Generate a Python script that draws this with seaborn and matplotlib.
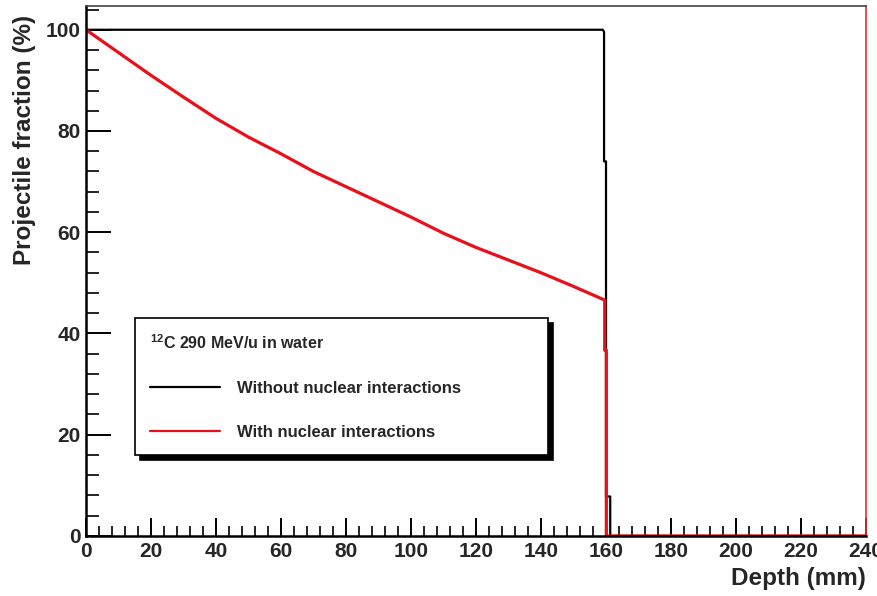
import matplotlib
matplotlib.use("Agg")
import matplotlib.pyplot as plt
import seaborn as sns
from matplotlib.ticker import MultipleLocator

# Depth (mm) and projectile fraction (%)
depth_with = [0, 10, 20, 30, 40, 50, 60, 70, 80, 90, 100, 110, 120, 130, 140, 150,
              159.6, 159.6, 160.1, 160.1, 240]
frac_with = [100, 95.5, 91, 86.7, 82.5, 78.8, 75.5, 72, 69, 66, 63, 59.8, 57, 54.5, 52, 49.3,
             46.6, 36.7, 36.7, 0, 0]

depth_without = [0, 159.0, 159.4, 159.4, 160.0, 160.0, 161.3, 161.3, 240]
frac_without = [100, 100, 99.6, 74, 74, 7.8, 7.8, 0, 0]

title_text = r"$^{12}$C 290 MeV/u in water"
label_without = "Without nuclear interactions"
label_with = "With nuclear interactions"

sns.set_theme(style="ticks")
plt.rcParams["font.family"] = ["Liberation Sans", "DejaVu Sans"]
plt.rcParams["mathtext.fontset"] = "custom"
plt.rcParams["mathtext.rm"] = "Liberation Sans:bold"
plt.rcParams["mathtext.default"] = "rm"

fig = plt.figure(figsize=(8.77, 5.96), dpi=100)
ax = fig.add_axes([0.098, 0.1007, 0.8895, 0.8893])

sns.lineplot(x=depth_without, y=frac_without, sort=False, estimator=None,
             color="black", linewidth=1.6, label=label_without, ax=ax)
sns.lineplot(x=depth_with, y=frac_with, sort=False, estimator=None,
             color="#e8101a", linewidth=2.3, label=label_with, ax=ax)

ax.set_xlim(0, 240)
ax.set_ylim(0, 104.7)

ax.xaxis.set_major_locator(MultipleLocator(20))
ax.xaxis.set_minor_locator(MultipleLocator(4))
ax.yaxis.set_major_locator(MultipleLocator(20))
ax.yaxis.set_minor_locator(MultipleLocator(4))
ax.tick_params(axis="x", which="major", direction="in", length=13, width=1.4,
               labelsize=15, pad=4, color="black")
ax.tick_params(axis="x", which="minor", direction="in", length=7, width=1.2, color="black")
ax.tick_params(axis="y", which="major", direction="in", length=18, width=1.4,
               labelsize=15, pad=4, color="black")
ax.tick_params(axis="y", which="minor", direction="in", length=9, width=1.2, color="black")
for lbl in ax.get_xticklabels() + ax.get_yticklabels():
    lbl.set_fontweight("bold")

ax.spines["left"].set_linewidth(1.8)
ax.spines["bottom"].set_linewidth(1.8)
ax.spines["left"].set_color("black")
ax.spines["bottom"].set_color("black")
ax.spines["top"].set_color("#444444")
ax.spines["top"].set_linewidth(1.2)
ax.spines["right"].set_color("#e03030")
ax.spines["right"].set_linewidth(1.2)

ax.set_xlabel("Depth (mm)", fontsize=17.5, fontweight="bold", loc="right", labelpad=5)
ax.set_ylabel("Projectile fraction (%)", fontsize=17.5, fontweight="bold", loc="top")
ax.yaxis.set_label_coords(-0.064, 0.983)

leg = ax.legend(loc="upper left", bbox_to_anchor=(0.063, 0.153, 0.529, 0.258),
                mode="expand", borderaxespad=0, title=title_text, alignment="left",
                prop={"weight": "bold", "size": 12},
                title_fontproperties={"weight": "bold", "size": 11.5},
                handlelength=4.2, handletextpad=1.0, labelspacing=1.75,
                borderpad=0.9, fancybox=False, frameon=True,
                shadow={"ox": 3.5, "oy": -3.5, "shade": 1.0, "alpha": 1})
leg.get_frame().set_edgecolor("black")
leg.get_frame().set_linewidth(1.2)
for line in leg.get_lines():
    line.set_linewidth(1.6)

fig.savefig("out.png", dpi=100)
